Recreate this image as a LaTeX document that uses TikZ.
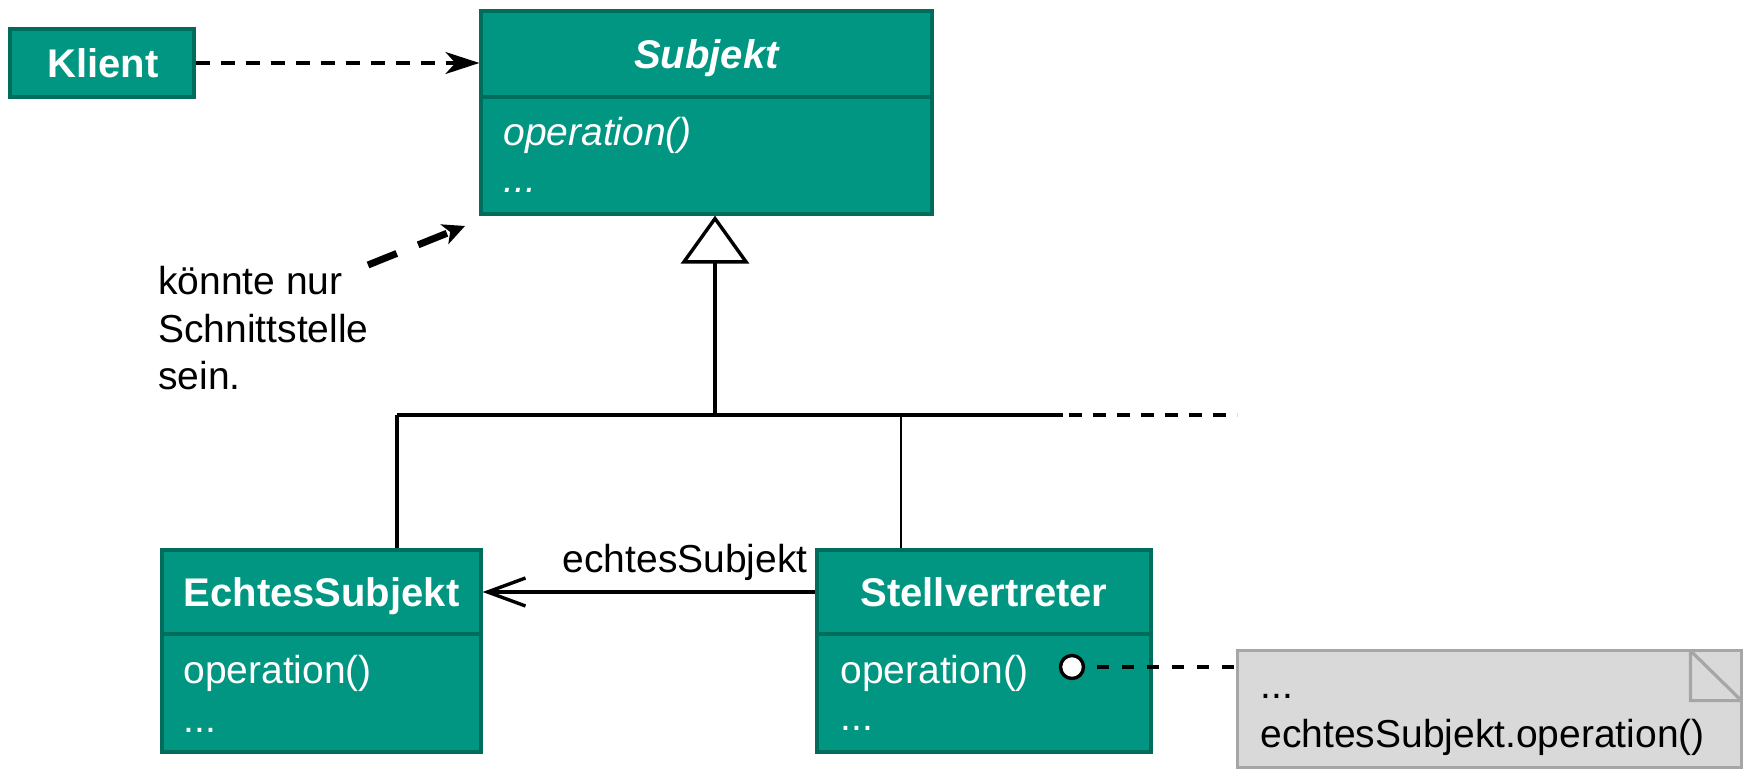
\documentclass[tikz,border=0pt]{standalone}
\usepackage{fontspec}
\setmainfont{Liberation Sans}
\usetikzlibrary{arrows.meta}
\definecolor{clsfill}{RGB}{0,150,130}
\definecolor{clsline}{RGB}{0,108,92}
\definecolor{notefill}{RGB}{217,217,217}
\definecolor{noteline}{RGB}{166,166,166}
\newcommand{\umlsize}{\fontsize{19.5pt}{24pt}\selectfont}
\newcommand{\umltitle}{\fontsize{20pt}{24pt}\selectfont\bfseries}
\begin{document}
\begin{tikzpicture}[x=0.5pt,y=-0.5pt,
  every node/.style={font=\umlsize, inner sep=0pt},
  cls/.style={draw=clsline, fill=clsfill, line width=1.6pt, rectangle},
  divider/.style={draw=clsline, line width=1.6pt},
  clsname/.style={text=white, font=\umltitle, anchor=base},
  member/.style={text=white, anchor=base west},
  plain/.style={text=black, anchor=base west},
  conn/.style={line width=1.7pt, draw=black},
  dep/.style={conn, dash pattern=on 7pt off 5.5pt,
    -{Stealth[length=17pt,width=11pt,inset=5pt]}},
  hintarrow/.style={line width=3.5pt, draw=black, dash pattern=on 15.5pt off 11.5pt,
    -{Stealth[length=11pt,width=10.5pt,inset=3pt]}},
  gen/.style={conn, -{Triangle[open,length=24pt,width=34pt,line width=1.7pt]}},
  assoc/.style={conn, -{Straight Barb[length=19pt,width=14pt,line width=1.7pt]}},
  notelink/.style={conn, dash pattern=on 6pt off 6.5pt},
  notebox/.style={draw=noteline, fill=notefill, line width=1.6pt},
  port/.style={circle, draw=black, fill=white, line width=1.7pt, minimum size=11.5pt}
]
\useasboundingbox (0,0) rectangle (1755,779);

% --- Klient ---
\node[cls, minimum width=92pt, minimum height=34pt] (klient) at (102,63) {};
\node[clsname] (klientName) at (103,78) {Klient};

% --- Subjekt (abstract) ---
\node[cls, minimum width=225.5pt, minimum height=101.5pt] (subjekt) at (706.5,112.5) {};
\draw[divider] (481,97) -- (932,97);
\node[clsname, font=\umltitle\itshape] (subjektName) at (706.5,69) {Subjekt};
\node[member, font=\umlsize\itshape] (subjektOp) at (503,146) {operation()};
\node[member, font=\umlsize\itshape] (subjektMore) at (503,193) {...};

% --- EchtesSubjekt ---
\node[cls, minimum width=159.5pt, minimum height=101pt] (echt) at (321.5,651) {};
\draw[divider] (162,634) -- (481,634);
\node[clsname] (echtName) at (321.5,607) {EchtesSubjekt};
\node[member] (echtOp) at (183,683) {operation()};
\node[member] (echtMore) at (183,732) {...};

% --- Stellvertreter ---
\node[cls, minimum width=167pt, minimum height=101pt] (stell) at (984,651) {};
\draw[divider] (817,634) -- (1151,634);
\node[clsname] (stellName) at (984,607) {Stellvertreter};
\node[member] (stellOp) at (840,683) {operation()};
\node[member] (stellMore) at (840,730) {...};

% --- note with folded corner ---
\node[minimum width=251.5pt, minimum height=58pt] (note) at (1489.5,709) {};
\filldraw[notebox] (note.north west) rectangle (note.south east);
\draw[notebox, fill=none] ([xshift=-25.5pt]note.north east) -- ++(0pt,-25pt) -- ++(25.5pt,0pt)
  ([xshift=-25.5pt]note.north east) -- ([yshift=-25pt]note.north east);
\node[plain] (noteDots) at (1260,698) {...};
\node[plain] (noteCall) at (1260,747) {echtesSubjekt.operation()};

% --- comment ---
\node[plain] (hint1) at (158,295) {könnte nur};
\node[plain] (hint2) at (158,343) {Schnittstelle};
\node[plain] (hint3) at (158,390) {sein.};
\coordinate (hintFrom) at (368,265);
\coordinate (hintTo) at (465,226);
\draw[hintarrow] (hintFrom) -- (hintTo);

% --- Klient uses Subjekt ---
\draw[dep] (klient.east) -- (subjekt.west |- klient.east);

% --- generalization tree ---
\coordinate (busL) at (397,415);
\coordinate (busM) at (715,415);
\coordinate (busS) at (901,415);
\coordinate (busR) at (1063,415);
\coordinate (busEnd) at (1237,415);
\draw[gen] (busM) -- (busM |- subjekt.south);
\draw[conn] (busL) -- (busR);
\draw[conn, dash pattern=on 6.5pt off 5.5pt, shorten <=3pt] (busR) -- (busEnd);
\draw[conn] (busL) -- (busL |- echt.north);
\draw[conn, line width=1.2pt] (busS) -- (busS |- stell.north);

% --- association ---
\draw[assoc] (stell.west |- 0,592) -- (echt.east |- 0,592);
\node[anchor=base east] (assocLabel) at (808,573) {echtesSubjekt};

% --- operation linked to note ---
\draw[notelink] (1072,667) -- (note.west |- 0,667);
\node[port] (opPort) at (1072,667) {};

\end{tikzpicture}
\end{document}
